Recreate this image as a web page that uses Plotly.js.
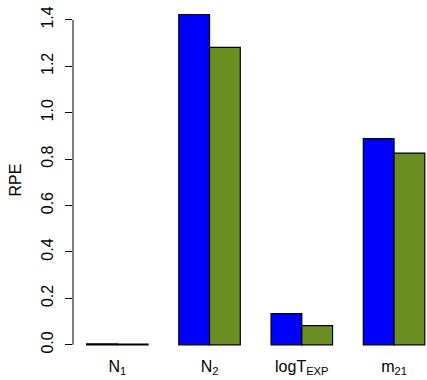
<!DOCTYPE html>
<html>
<head>
<meta charset="utf-8">
<script src="https://cdn.plot.ly/plotly-3.0.1.min.js"></script>
<style>html,body{margin:0;padding:0;background:#fff;}#chart{width:427px;height:380px;}</style>
</head>
<body>
<div id="chart"></div>
<script>
const categories = ['N<sub>1</sub>', 'N<sub>2</sub>', 'logT<sub>EXP</sub>', 'm<sub>21</sub>'];
const seriesA = [0.004, 1.423, 0.134, 0.888];
const seriesB = [0.003, 1.281, 0.083, 0.826];
const yTickVals = [0, 0.2, 0.4, 0.6, 0.8, 1.0, 1.2, 1.4];
const yTickText = ['0.0', '0.2', '0.4', '0.6', '0.8', '1.0', '1.2', '1.4'];

const FONT = 'Liberation Sans, Arial, Helvetica, sans-serif';

const traces = [
  {type: 'bar', x: categories, y: seriesA, name: 'A',
   marker: {color: '#0000FF', line: {color: '#000000', width: 1.2}}},
  {type: 'bar', x: categories, y: seriesB, name: 'B',
   marker: {color: '#6B8E23', line: {color: '#000000', width: 1.2}}}
];

const layout = {
  width: 427, height: 380,
  margin: {l: 73, r: 0, t: 2, b: 22},
  paper_bgcolor: '#ffffff', plot_bgcolor: '#ffffff',
  showlegend: false,
  barmode: 'group', bargap: 1/3, bargroupgap: 0,
  font: {family: FONT, color: '#000000', size: 16},
  xaxis: {
    type: 'category', range: [-0.48, 3.357],
    showline: false, showgrid: false, zeroline: false, ticks: '',
    tickfont: {family: FONT, size: 16, color: '#000'},
    ticklabelstandoff: -3, fixedrange: true
  },
  yaxis: {
    range: [-0.0568, 1.4768],
    showline: false, showgrid: false, zeroline: false,
    ticks: 'outside', ticklen: 7, tickwidth: 1, tickcolor: '#000',
    tickvals: yTickVals, ticktext: yTickText, tickangle: -90,
    tickfont: {family: FONT, size: 16, color: '#000'},
    ticklabelstandoff: 6,
    title: {text: 'RPE', font: {family: FONT, size: 16, color: '#000'}, standoff: 12},
    automargin: false, fixedrange: true
  },
  shapes: [
    {type: 'line', xref: 'paper', yref: 'y', x0: 0, x1: 0, y0: 0, y1: 1.4,
     line: {color: '#000', width: 1}}
  ]
};

Plotly.newPlot('chart', traces, layout, {displayModeBar: false, staticPlot: true});
</script>
</body>
</html>
